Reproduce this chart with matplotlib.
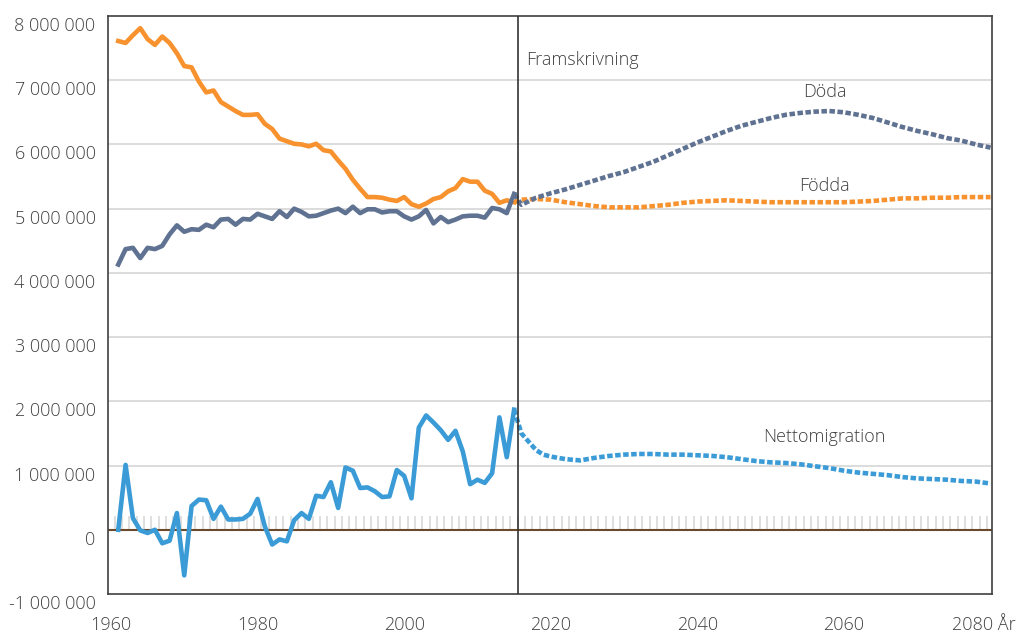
import numpy as np
import matplotlib
matplotlib.use("Agg")
import matplotlib.pyplot as plt
import matplotlib.transforms as mtransforms

plt.rcParams['font.family'] = ['Open Sans', 'DejaVu Sans']
plt.rcParams['font.weight'] = 'light'

# historiska värden 1961-2015 (miljoner)
hist_years = np.arange(1961, 2016)
births_hist = [7.61, 7.58, 7.70, 7.81, 7.64, 7.55, 7.68, 7.58, 7.42, 7.22,
               7.20, 6.98, 6.81, 6.84, 6.66, 6.59, 6.52, 6.46, 6.46, 6.47,
               6.32, 6.24, 6.09, 6.05, 6.01, 6.00, 5.97, 6.01, 5.91, 5.89,
               5.75, 5.62, 5.45, 5.31, 5.18, 5.18, 5.17, 5.14, 5.12, 5.18,
               5.07, 5.03, 5.08, 5.15, 5.18, 5.27, 5.32, 5.46, 5.42, 5.42,
               5.28, 5.23, 5.09, 5.13, 5.10]
deaths_hist = [4.13, 4.37, 4.39, 4.23, 4.39, 4.37, 4.42, 4.60, 4.74, 4.64,
               4.68, 4.67, 4.75, 4.71, 4.83, 4.84, 4.75, 4.84, 4.83, 4.92,
               4.88, 4.84, 4.96, 4.87, 5.00, 4.95, 4.88, 4.89, 4.93, 4.97,
               5.00, 4.93, 5.03, 4.93, 4.99, 4.99, 4.94, 4.96, 4.96, 4.88,
               4.83, 4.88, 4.98, 4.77, 4.87, 4.79, 4.83, 4.88, 4.89, 4.89,
               4.86, 5.01, 4.99, 4.93, 5.23]
migr_hist = [0.00, 1.01, 0.18, -0.01, -0.05, 0.00, -0.21, -0.17, 0.26, -0.71,
             0.37, 0.47, 0.46, 0.17, 0.36, 0.16, 0.16, 0.17, 0.25, 0.48,
             0.05, -0.23, -0.15, -0.18, 0.15, 0.26, 0.17, 0.53, 0.51, 0.74,
             0.34, 0.97, 0.92, 0.65, 0.66, 0.60, 0.51, 0.52, 0.93, 0.84,
             0.49, 1.59, 1.78, 1.67, 1.55, 1.40, 1.54, 1.22, 0.71, 0.78,
             0.73, 0.88, 1.75, 1.13, 1.87]

# framskrivning (miljoner)
proj_years = [2016, 2018, 2020, 2022, 2024, 2026, 2028, 2030, 2032, 2034,
              2036, 2038, 2040, 2042, 2044, 2046, 2048, 2050, 2052, 2054,
              2056, 2058, 2060, 2062, 2064, 2066, 2068, 2070, 2072, 2074,
              2076, 2078, 2080]
deaths_proj = [5.06, 5.17, 5.24, 5.30, 5.37, 5.44, 5.51, 5.57, 5.65, 5.73,
               5.83, 5.93, 6.03, 6.12, 6.21, 6.29, 6.35, 6.41, 6.46, 6.49,
               6.51, 6.52, 6.50, 6.46, 6.41, 6.34, 6.27, 6.21, 6.16, 6.10,
               6.06, 6.00, 5.95]
births_proj = [5.14, 5.15, 5.14, 5.10, 5.07, 5.04, 5.02, 5.02, 5.02, 5.04,
               5.06, 5.09, 5.11, 5.12, 5.13, 5.12, 5.11, 5.10, 5.10, 5.10,
               5.10, 5.10, 5.10, 5.11, 5.12, 5.14, 5.16, 5.16, 5.17, 5.17,
               5.18, 5.18, 5.18]
migr_proj_years = [2016, 2017, 2018, 2019, 2020, 2022, 2024, 2026, 2028, 2030,
                   2032, 2034, 2036, 2038, 2040, 2042, 2044, 2046, 2048, 2050,
                   2052, 2054, 2056, 2058, 2060, 2062, 2064, 2066, 2068, 2070,
                   2072, 2074, 2076, 2078, 2080]
migr_proj = [1.50, 1.37, 1.24, 1.17, 1.14, 1.10, 1.08, 1.12, 1.15, 1.17,
             1.18, 1.18, 1.17, 1.17, 1.16, 1.15, 1.13, 1.10, 1.07, 1.05,
             1.04, 1.02, 0.99, 0.96, 0.92, 0.89, 0.87, 0.85, 0.82, 0.80,
             0.79, 0.78, 0.76, 0.75, 0.72]

y_ticks = [-1, 0, 1, 2, 3, 4, 5, 6, 7, 8]
y_labels = ['-1 000 000', '0', '1 000 000', '2 000 000', '3 000 000', '4 000 000',
            '5 000 000', '6 000 000', '7 000 000', '8 000 000']
x_ticks = [1960, 1980, 2000, 2020, 2040, 2060, 2080]
x_labels = ['1960', '1980', '2000', '2020', '2040', '2060', '2080 År']

orange = '#f7922e'
grey = '#5f7291'
blue = '#3a9bd6'
txt = '#404040'

M = 1e6
fig = plt.figure(figsize=(10.16, 6.34), dpi=100)
ax = fig.add_axes([0.1063, 0.0631, 0.8701, 0.9117])

for v in y_ticks[2:-1]:
    ax.axhline(v * M, color='#d9d9d9', lw=1.3, zorder=1)

# små streck ovanför nollinjen
ax.vlines(np.arange(1960.5, 2080), 0, 0.22 * M, color='#d9d9d9', lw=1.2, zorder=1)
ax.axhline(0, color='#6b4a2b', lw=1.5, zorder=2)
ax.axvline(2015.5, color='#333333', lw=1.2, zorder=4)

dot = (0, (1.2, 0.55))
ax.plot(hist_years, np.array(births_hist) * M, color=orange, lw=3.3, zorder=3)
ax.plot(hist_years, np.array(deaths_hist) * M, color=grey, lw=3.3, zorder=3)
ax.plot(hist_years, np.array(migr_hist) * M, color=blue, lw=3.3, zorder=3)

ax.plot([2015] + proj_years, np.array([births_hist[-1]] + births_proj) * M,
        color=orange, lw=3.3, ls=dot, dash_capstyle='butt', zorder=3)
ax.plot([2015] + proj_years, np.array([deaths_hist[-1]] + deaths_proj) * M,
        color=grey, lw=3.3, ls=dot, dash_capstyle='butt', zorder=3)
ax.plot([2015] + migr_proj_years, np.array([migr_hist[-1]] + migr_proj) * M,
        color=blue, lw=3.3, ls=dot, dash_capstyle='butt', zorder=3)

fs = 13
ax.text(2016.7, 7.32 * M, 'Framskrivning', fontsize=fs, color=txt, va='center', ha='left')
ax.text(2057.4, 6.81 * M, 'Döda', fontsize=fs, color=txt, va='center', ha='center')
ax.text(2057.4, 5.36 * M, 'Födda', fontsize=fs, color=txt, va='center', ha='center')
ax.text(2057.3, 1.45 * M, 'Nettomigration', fontsize=fs, color=txt, va='center', ha='center')

ax.set_xlim(1959.6, 2080.2)
ax.set_ylim(-1 * M, 8 * M)
ax.set_yticks([v * M for v in y_ticks])
ax.set_yticklabels(y_labels)
ax.set_xticks(x_ticks)
ax.set_xticklabels(x_labels)
ax.tick_params(axis='y', length=0, pad=9, labelsize=fs, labelcolor=txt)
ax.tick_params(axis='x', length=0, pad=16, labelsize=fs, labelcolor=txt)

# etiketterna sitter lite under linjerna i originalet
down = mtransforms.ScaledTranslation(0, -8 / 100, fig.dpi_scale_trans)
for lab in ax.get_yticklabels():
    lab.set_transform(lab.get_transform() + down)
left = mtransforms.ScaledTranslation(-7 / 100, 0, fig.dpi_scale_trans)
last = ax.get_xticklabels()[-1]
last.set_transform(last.get_transform() + left)

for s in ax.spines.values():
    s.set_color('#404040')
    s.set_linewidth(1.2)

fig.savefig('out.png', dpi=100)
